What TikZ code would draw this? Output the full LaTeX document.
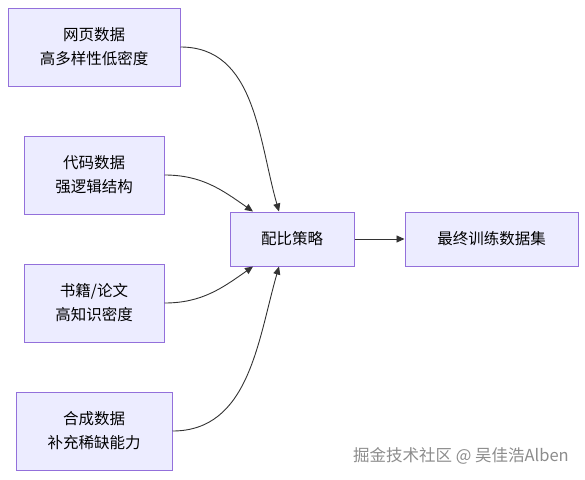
\documentclass[tikz,border=0pt]{standalone}
\usepackage{fontspec}
\setmainfont{Noto Sans CJK SC}
\usepackage{xcolor}
\usetikzlibrary{positioning,arrows.meta}
\definecolor{boxfill}{HTML}{ECECFF}
\definecolor{boxline}{HTML}{9370DB}
\definecolor{linkcol}{HTML}{333333}

\begin{document}
\begin{tikzpicture}[x=1pt, y=-1pt, node distance=50pt,
    block/.style={rectangle, draw=boxline, fill=boxfill, line width=1pt, align=center,
      text=black, inner sep=0pt, font=\fontsize{15.5}{24}\selectfont},
    arrow/.style={-{Triangle[length=8pt,width=7pt]}, draw=linkcol, line width=0.9pt}]

    \useasboundingbox (0,0) rectangle (585,479);

    \node[block, minimum width=172pt, minimum height=78pt] (web) at (94,47) {网页数据\\高多样性低密度};
    \node[block, minimum width=140pt, minimum height=78pt] (code) at (94,175) {代码数据\\强逻辑结构};
    \node[block, minimum width=140pt, minimum height=78pt] (book) at (94,303) {书籍/论文\\高知识密度};
    \node[block, minimum width=156pt, minimum height=78pt] (synth) at (94,431) {合成数据\\补充稀缺能力};

    \node[block, minimum width=124pt, minimum height=54pt] (mix) at (292,239) {配比策略};
    \node[block, minimum width=173pt, minimum height=54pt, right=50pt of mix] (final) {最终训练数据集};

    \draw[arrow] (web.east) to[out=0, in=106] ([xshift=-13pt]mix.north);
    \draw[arrow] (code.east) to[out=0, in=145] ([xshift=-39pt]mix.north);
    \draw[arrow] (book.east) to[out=0, in=215] ([xshift=-39pt]mix.south);
    \draw[arrow] (synth.east) to[out=0, in=254] ([xshift=-13pt]mix.south);
    \draw[arrow] (mix) -- (final);

    \node[text=gray!90, anchor=east, inner sep=0pt, font=\fontsize{16.5}{20}\selectfont] (mark) at (569,456) {掘金技术社区 @ 吴佳浩Alben};
\end{tikzpicture}
\end{document}
